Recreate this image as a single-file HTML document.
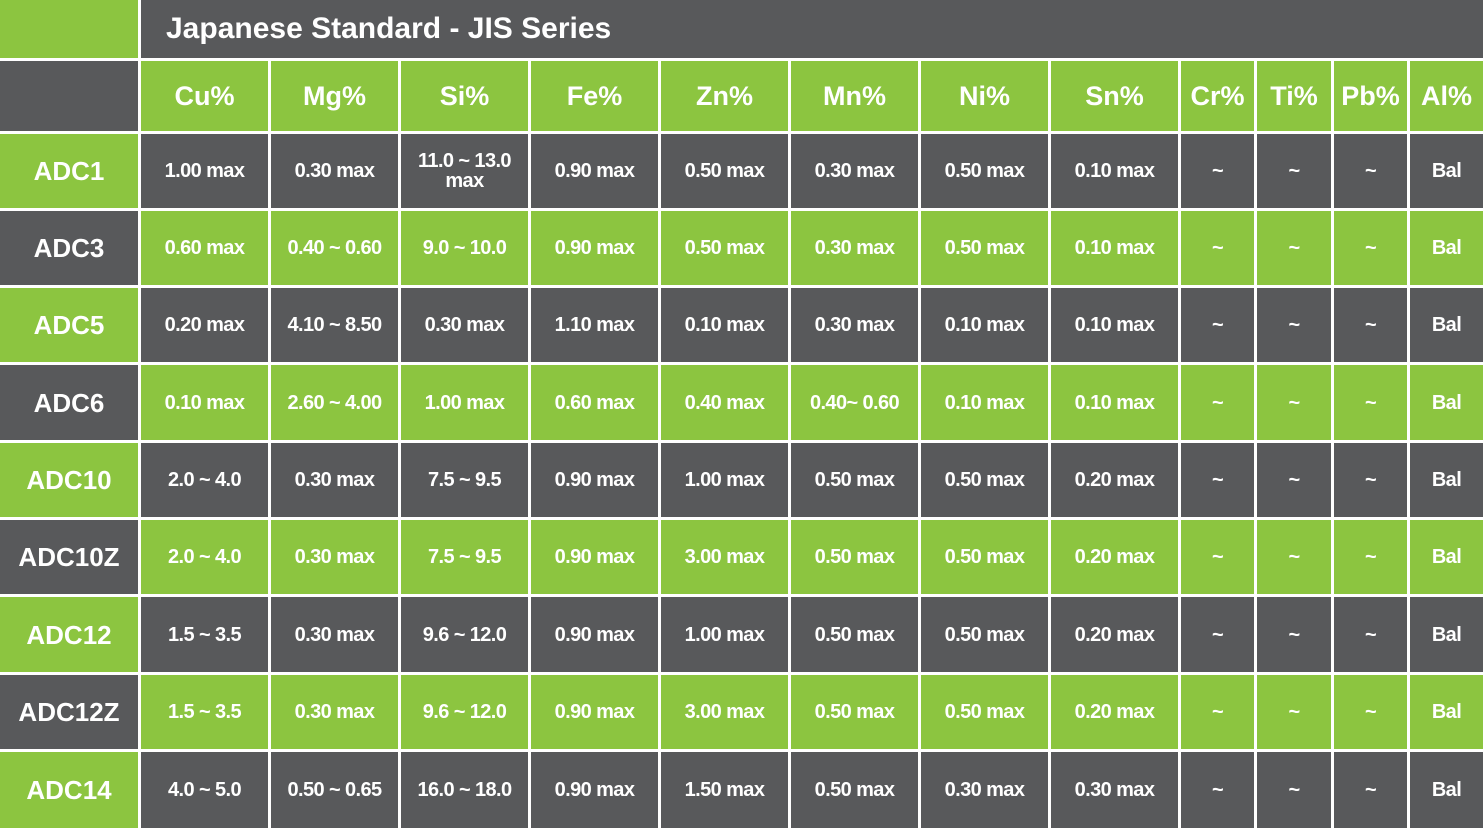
<!DOCTYPE html><html><head><style>
body{margin:0;width:1483px;height:828px;background:#fff;overflow:hidden;font-family:"Liberation Sans",sans-serif}
.c{position:absolute;display:flex;align-items:center;justify-content:center;color:#fff;font-weight:bold;text-align:center;line-height:1}
.g{background:#8cc540}.d{background:#58595b}
.v{font-size:20px;letter-spacing:-0.6px}
.h{font-size:27px}
.l{font-size:26px}
</style></head><body>
<div class="c g" style="left:0;top:0;width:138px;height:58px"></div>
<div class="c d" style="left:141px;top:0;width:1342px;height:58px;justify-content:flex-start;padding-left:25px;box-sizing:border-box;font-size:30px">Japanese Standard - JIS Series</div>
<div id="t"></div>
<script>
var xs=[0,141,271,401,531,661,791,921,1051,1181,1257,1334,1410,1486];
var ys=[61,134,211,288,365,443,520,597,675,752,831];
var hd=["","Cu%","Mg%","Si%","Fe%","Zn%","Mn%","Ni%","Sn%","Cr%","Ti%","Pb%","Al%"];
var rows=[
["ADC1","1.00 max","0.30 max","11.0 ~ 13.0<br>max","0.90 max","0.50 max","0.30 max","0.50 max","0.10 max"],
["ADC3","0.60 max","0.40 ~ 0.60","9.0 ~ 10.0","0.90 max","0.50 max","0.30 max","0.50 max","0.10 max"],
["ADC5","0.20 max","4.10 ~ 8.50","0.30 max","1.10 max","0.10 max","0.30 max","0.10 max","0.10 max"],
["ADC6","0.10 max","2.60 ~ 4.00","1.00 max","0.60 max","0.40 max","0.40~ 0.60","0.10 max","0.10 max"],
["ADC10","2.0 ~ 4.0","0.30 max","7.5 ~ 9.5","0.90 max","1.00 max","0.50 max","0.50 max","0.20 max"],
["ADC10Z","2.0 ~ 4.0","0.30 max","7.5 ~ 9.5","0.90 max","3.00 max","0.50 max","0.50 max","0.20 max"],
["ADC12","1.5 ~ 3.5","0.30 max","9.6 ~ 12.0","0.90 max","1.00 max","0.50 max","0.50 max","0.20 max"],
["ADC12Z","1.5 ~ 3.5","0.30 max","9.6 ~ 12.0","0.90 max","3.00 max","0.50 max","0.50 max","0.20 max"],
["ADC14","4.0 ~ 5.0","0.50 ~ 0.65","16.0 ~ 18.0","0.90 max","1.50 max","0.50 max","0.30 max","0.30 max"]];
var h="";
function cell(c,r,cls,txt){h+='<div class="c '+cls+'" style="left:'+xs[c]+'px;top:'+ys[r]+'px;width:'+(xs[c+1]-xs[c]-3)+'px;height:'+(ys[r+1]-ys[r]-3)+'px">'+txt+'</div>';}
for(var c=0;c<13;c++)cell(c,0,(c==0?'d':'g')+' h',hd[c]);
for(var r=0;r<9;r++){var row=rows[r].concat(["~","~","~","Bal"]);var even=r%2==0;
for(var c=0;c<13;c++){cell(c,r+1,(c==0?(even?'g':'d'):(even?'d':'g'))+(c==0?' l':' v'),row[c]);}}
document.getElementById('t').innerHTML=h;
</script>
</body></html>
